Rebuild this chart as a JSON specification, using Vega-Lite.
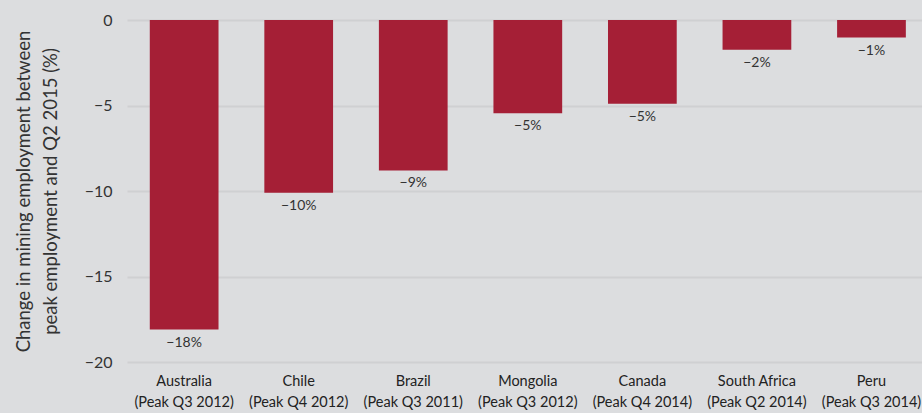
{
  "$schema": "https://vega.github.io/schema/vega-lite/v6.json",
  "width": 795,
  "height": 342,
  "padding": {"left": 127, "top": 20, "right": 0, "bottom": 51},
  "autosize": {"type": "none"},
  "background": "#dcdddf",
  "config": {
    "view": {"stroke": null, "fill": "#dcdddf"},
    "font": "Lato"
  },
  "data": {
    "values": [
      {"country": "Australia", "peak": "(Peak Q3 2012)", "change": -18.1, "label": "−18%"},
      {"country": "Chile", "peak": "(Peak Q4 2012)", "change": -10.1, "label": "−10%"},
      {"country": "Brazil", "peak": "(Peak Q3 2011)", "change": -8.8, "label": "−9%"},
      {"country": "Mongolia", "peak": "(Peak Q3 2012)", "change": -5.45, "label": "−5%"},
      {"country": "Canada", "peak": "(Peak Q4 2014)", "change": -4.9, "label": "−5%"},
      {"country": "South Africa", "peak": "(Peak Q2 2014)", "change": -1.74, "label": "−2%"},
      {"country": "Peru", "peak": "(Peak Q3 2014)", "change": -1.03, "label": "−1%"}
    ]
  },
  "encoding": {
    "x": {
      "field": "country",
      "type": "nominal",
      "sort": null,
      "scale": {"paddingInner": 0.4, "paddingOuter": 0.17, "align": 0.585},
      "axis": {
        "title": null,
        "domain": false,
        "ticks": false,
        "labelAngle": 0,
        "labelFont": "Lato",
        "labelFontSize": 14.5,
        "labelColor": "#222222",
        "labelPadding": 12,
        "labelLineHeight": 21,
        "labelExpr": "[datum.value, {'Australia':'(Peak Q3 2012)','Chile':'(Peak Q4 2012)','Brazil':'(Peak Q3 2011)','Mongolia':'(Peak Q3 2012)','Canada':'(Peak Q4 2014)','South Africa':'(Peak Q2 2014)','Peru':'(Peak Q3 2014)'}[datum.value]]"
      }
    },
    "y": {
      "field": "change",
      "type": "quantitative",
      "scale": {"domain": [-20, 0], "nice": false},
      "axis": {
        "values": [0, -5, -10, -15, -20],
        "title": ["Change in mining employment between", "peak employment and Q2 2015 (%)"],
        "titleFont": "Lato",
        "titleFontSize": 18.5,
        "titleFontWeight": "normal",
        "titleColor": "#333333",
        "titleLineHeight": 27,
        "titlePadding": 24,
        "domain": false,
        "ticks": false,
        "labelFont": "Lato",
        "labelFontSize": 16,
        "labelColor": "#333333",
        "labelPadding": 15,
        "gridColor": "#cfd0d2",
        "gridWidth": 2
      }
    }
  },
  "layer": [
    {"mark": {"type": "bar", "color": "#a51f36"}},
    {
      "mark": {"type": "text", "baseline": "middle", "dy": 13, "fontSize": 14, "color": "#333333", "font": "Lato"},
      "encoding": {"text": {"field": "label"}}
    }
  ]
}
